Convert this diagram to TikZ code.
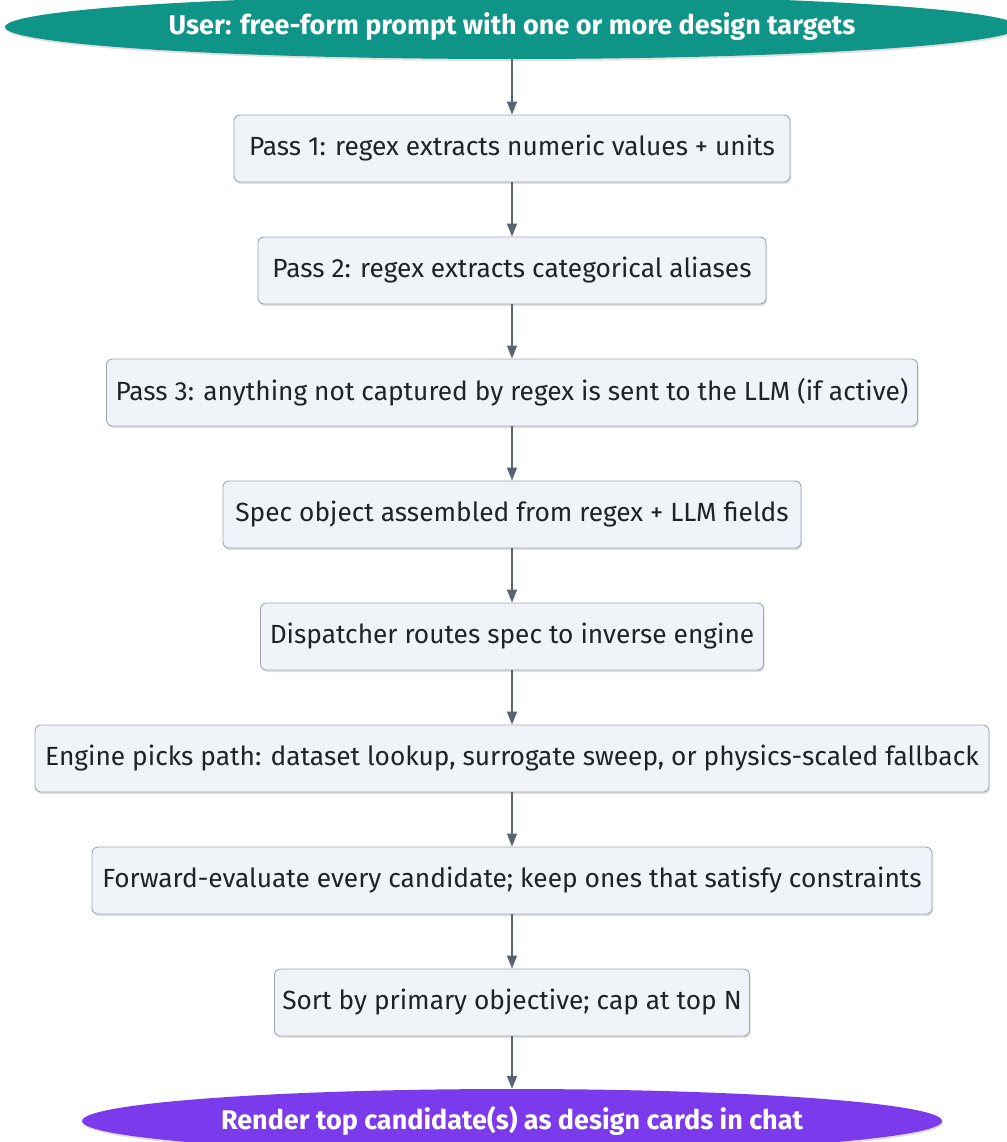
\documentclass[tikz,border=0pt]{standalone}
\usepackage{fontspec}
\setmainfont{Fira Sans}
\usetikzlibrary{shapes.geometric,arrows.meta,shadows}
\definecolor{boxfill}{HTML}{F0F3F8}
\definecolor{boxline}{HTML}{A0A7B3}
\definecolor{arrowc}{HTML}{5B6270}
\definecolor{tealc}{HTML}{0F9488}
\definecolor{violetc}{HTML}{7C3AED}
\definecolor{textc}{HTML}{1F2328}
\begin{document}
\begin{tikzpicture}[x=1pt,y=-1pt,
  softshadow/.style={drop shadow={shadow xshift=1pt,shadow yshift=-2pt,opacity=0.12,fill=black}},
  stepbox/.style={draw=boxline, line width=0.9pt, fill=boxfill, rounded corners=6pt,
    minimum height=67pt, inner sep=0pt, text=textc,
    font=\fontsize{26.3}{30}\selectfont, softshadow},
  terminal/.style={ellipse, draw=none, fill=#1, inner sep=0pt, minimum height=64pt,
    text=white, font=\fontsize{27}{31}\selectfont\bfseries, softshadow},
  flow/.style={draw=arrowc, line width=1.6pt, -{Triangle[width=10pt,length=13pt]}}]
  \useasboundingbox (0,0) rectangle (1006,1142);

  \node[terminal=tealc, minimum width=1014pt] (start) at (512,27)
    {User: free-form prompt with one or more design targets};
  \node[stepbox, minimum width=556pt] (p1) at (512,148.5)
    {Pass 1: regex extracts numeric values + units};
  \node[stepbox, minimum width=508pt] (p2) at (512,270.5)
    {Pass 2: regex extracts categorical aliases};
  \node[stepbox, minimum width=811pt] (p3) at (512,392.5)
    {Pass 3: anything not captured by regex is sent to the LLM (if active)};
  \node[stepbox, minimum width=578pt] (spec) at (512,514.5)
    {Spec object assembled from regex + LLM fields};
  \node[stepbox, minimum width=503pt] (disp) at (512,636.5)
    {Dispatcher routes spec to inverse engine};
  \node[stepbox, minimum width=954pt] (eng) at (512,758.5)
    {Engine picks path: dataset lookup, surrogate sweep, or physics-scaled fallback};
  \node[stepbox, minimum width=840pt] (fwd) at (512,880.5)
    {Forward-evaluate every candidate; keep ones that satisfy constraints};
  \node[stepbox, minimum width=475pt] (sort) at (512,1002.5)
    {Sort by primary objective; cap at top N};
  \node[terminal=violetc, minimum width=860pt] (out) at (512,1121)
    {Render top candidate(s) as design cards in chat};

  \draw[flow] (start) -- (p1);
  \draw[flow] (p1) -- (p2);
  \draw[flow] (p2) -- (p3);
  \draw[flow] (p3) -- (spec);
  \draw[flow] (spec) -- (disp);
  \draw[flow] (disp) -- (eng);
  \draw[flow] (eng) -- (fwd);
  \draw[flow] (fwd) -- (sort);
  \draw[flow] (sort) -- (out);
\end{tikzpicture}
\end{document}
